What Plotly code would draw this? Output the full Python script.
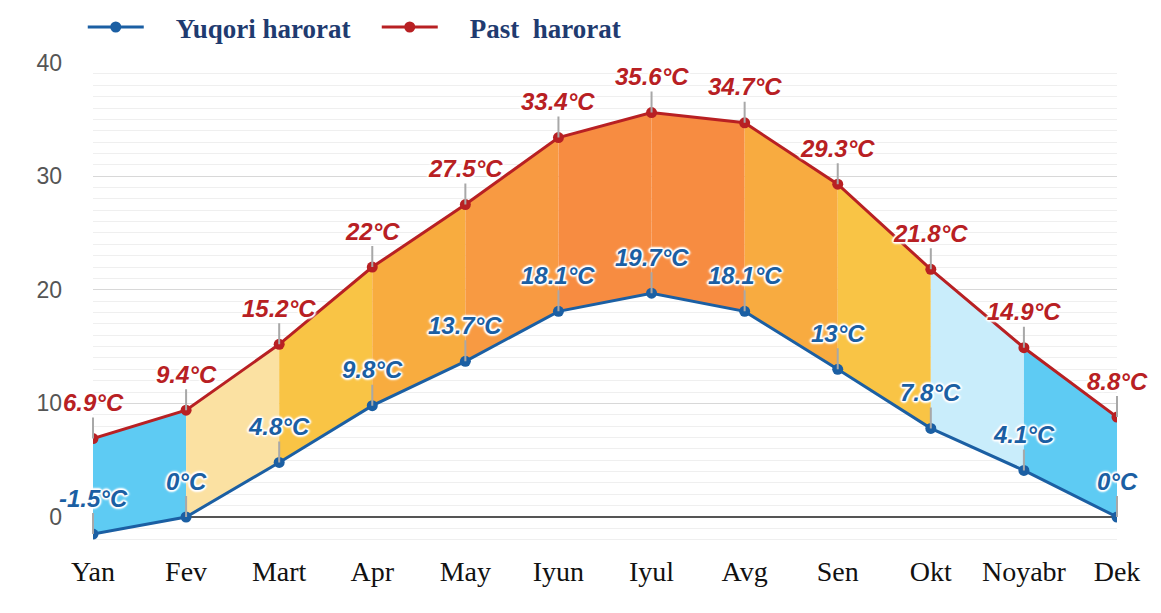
import plotly.graph_objects as go

months = ["Yan", "Fev", "Mart", "Apr", "May", "Iyun", "Iyul", "Avg", "Sen", "Okt", "Noyabr", "Dek"]
past_harorat = [6.9, 9.4, 15.2, 22, 27.5, 33.4, 35.6, 34.7, 29.3, 21.8, 14.9, 8.8]
yuqori_harorat = [-1.5, 0, 4.8, 9.8, 13.7, 18.1, 19.7, 18.1, 13, 7.8, 4.1, 0]
y_ticks = [0, 10, 20, 30, 40]

seg_colors = ["#5ecbf3", "#fbe1a2", "#f9c445", "#f8ac3f", "#f89a42", "#f78c41",
              "#f78c41", "#f8ab40", "#f9c445", "#c9edfb", "#5ecbf3"]

RED = "#b82023"
BLUE = "#1b5fa3"
GAP = "\u00a0" * 4

x = list(range(len(months)))
fig = go.Figure()

# segment fills between the two lines
for i in range(len(months) - 1):
    fig.add_trace(go.Scatter(
        x=[x[i], x[i + 1], x[i + 1], x[i], x[i]],
        y=[past_harorat[i], past_harorat[i + 1], yuqori_harorat[i + 1], yuqori_harorat[i], past_harorat[i]],
        fill="toself", fillcolor=seg_colors[i], mode="lines", line=dict(width=0),
        showlegend=False, hoverinfo="skip"))

fig.add_trace(go.Scatter(
    x=x, y=yuqori_harorat, mode="lines+markers", name=GAP + "Yuqori harorat",
    line=dict(color=BLUE, width=3), marker=dict(color=BLUE, size=11)))
fig.add_trace(go.Scatter(
    x=x, y=past_harorat, mode="lines+markers", name=GAP + "Past  harorat",
    line=dict(color=RED, width=3), marker=dict(color=RED, size=11)))

shadow = "1px 1px 1px white, -1px -1px 1px white, 1px -1px 1px white, -1px 1px 1px white, 0 2px 2px white, 0 -2px 2px white, 2px 0 2px white, -2px 0 2px white"


def fmt(v):
    return f"{v:g}°C"


for xi, v in zip(x, past_harorat):
    fig.add_annotation(x=xi, y=v, text=fmt(v), showarrow=True, arrowhead=0,
                       arrowwidth=2, arrowcolor="#a8a8a8", ax=0, ay=-36, yanchor="middle",
                       font=dict(family="Liberation Sans", size=24, color=RED,
                                 weight="bold", style="italic", shadow=shadow))
for xi, v in zip(x, yuqori_harorat):
    fig.add_annotation(x=xi, y=v, text=fmt(v), showarrow=True, arrowhead=0,
                       arrowwidth=2, arrowcolor="#a8a8a8", ax=0, ay=-36, yanchor="middle",
                       font=dict(family="Liberation Sans", size=24, color=BLUE,
                                 weight="bold", style="italic", shadow=shadow))

fig.update_layout(
    width=1153, height=605,
    paper_bgcolor="white", plot_bgcolor="white",
    margin=dict(l=85, r=44, t=54, b=71, autoexpand=False),
    showlegend=True,
    legend=dict(orientation="h", x=-0.01, y=1.072, xanchor="left", yanchor="middle",
                font=dict(family="Liberation Serif", size=27, color="#1f3b70", weight="bold"),
                entrywidth=223, entrywidthmode="pixels", itemwidth=56,
                bgcolor="rgba(0,0,0,0)"),
)

fig.update_xaxes(
    range=[0, 11], tickvals=x, ticktext=months, showgrid=False, zeroline=False,
    showline=False, ticks="outside", ticklen=4, tickcolor="rgba(0,0,0,0)",
    tickfont=dict(family="Liberation Serif", size=28, color="#111"))
fig.update_yaxes(
    range=[-2.2, 40.05], tickvals=y_ticks, showgrid=True, gridcolor="#d8d8d8", gridwidth=1,
    minor=dict(dtick=1, showgrid=True, gridcolor="#efefef", gridwidth=1),
    zeroline=True, zerolinecolor="#555555", zerolinewidth=2,
    ticks="", ticklabelstandoff=30,
    tickfont=dict(family="Liberation Sans", size=23, color="#555555"))

fig.write_html("out.html")
